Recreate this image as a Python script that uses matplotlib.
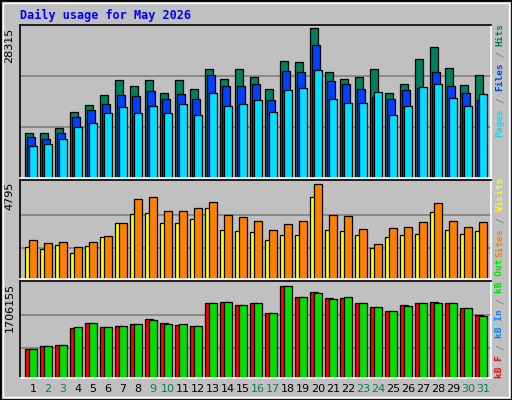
import matplotlib
matplotlib.use("Agg")
import matplotlib.pyplot as plt
from matplotlib.patches import Rectangle

days = list(range(1, 32))
hits = [8520,8520,9481,12556,13709,15631,18513,17360,18513,16015,18513,16784,20627,18706,20627,19090,16784,22165,21973,28315,20051,18706,19090,20627,16015,17745,22549,24663,20820,17552,19474]
files = [7751,7367,8520,11595,12748,13901,15631,15438,16399,14862,15823,14862,19474,17360,17360,17745,14670,20243,20051,25048,18321,17745,16784,15246,14862,16592,16976,20051,17360,16015,14670]
pages = [6022,6406,7367,9673,10442,12364,13325,12364,13517,12364,13901,11980,16015,13517,13901,14670,12556,16592,16976,20435,14862,14093,14093,16207,11980,13517,17168,17745,15054,13517,15823]
visits = [1604,1500,1709,1291,1657,2128,2808,3279,3331,2808,2808,3017,3593,2494,2442,2389,1971,2232,2232,4168,2494,2442,2232,1552,2128,2232,2285,3383,2494,2285,2442]
sites = [1971,1814,1866,1604,1866,2180,2808,4063,4168,3436,3436,3593,3907,3226,3122,2912,2494,2755,2912,4795,3226,3174,2546,1761,2598,2651,2860,3854,2912,2651,2860]
kb_f = [529,585,604,922,1015,940,959,996,1090,1015,978,959,1389,1407,1351,1389,1202,1706,1501,1594,1482,1482,1389,1314,1239,1351,1389,1407,1389,1295,1164]
kb_in = [529,585,604,940,1015,940,959,996,1071,996,996,959,1389,1407,1351,1389,1202,1706,1501,1575,1463,1501,1389,1314,1239,1332,1389,1389,1389,1295,1146]
kb_f = [v * 1000 for v in kb_f]
kb_in = [v * 1000 for v in kb_in]
weekend = [2, 3, 9, 10, 16, 17, 23, 24, 30, 31]

W, H = 512, 400
fig = plt.figure(figsize=(W/100, H/100), dpi=100)
fig.patch.set_facecolor("#C0C0C0")
mono = "DejaVu Sans Mono"

fig.add_artist(Rectangle((0, 0), 1, 1, transform=fig.transFigure, fill=False, ec="black", lw=2))
fig.add_artist(Rectangle((3/W, 3/H), 1-6/W, 1-6/H, transform=fig.transFigure, fill=False, ec="white", lw=1))

def ax_px(x0, y0, x1, y1):
    return fig.add_axes([x0/W, 1-y1/H, (x1-x0)/W, (y1-y0)/H])

def style(ax, ymax, grid_fracs, label):
    ax.set_facecolor("#C0C0C0")
    ax.set_xlim(0.5, 31.9)
    ax.set_ylim(0, ymax)
    for g in grid_fracs:
        ax.axhline(g*ymax, color="#808080", lw=1.2, zorder=0)
    ax.set_xticks([]); ax.set_yticks([])
    for s in ["top", "left"]:
        ax.spines[s].set_color("black")
    for s in ["bottom", "right"]:
        ax.spines[s].set_color("white")
    for s in ax.spines.values():
        s.set_linewidth(1.2)
    ax.text(-0.012, 1 - 0.02, label, transform=ax.transAxes, rotation=90,
            ha="right", va="top", fontsize=8, family="DejaVu Sans")

CH = 5.7
def right_label(parts, y_bottom_px):
    # parts from bottom to top; texts read bottom-to-top
    y = y_bottom_px
    for txt, col in parts:
        fig.text(500/W, 1 - y/H, txt, rotation=90, ha="center", va="bottom",
                 color=col, fontsize=6.8, family=mono, fontweight="bold")
        y -= len(txt) * CH + CH

ec = dict(edgecolor="black", linewidth=0.9)
x = [d - 0.5 for d in days]

ax1 = ax_px(20, 25, 491, 178)
ymax1 = 28315 * 151 / 148
style(ax1, ymax1, [1/3, 2/3], "28315")
ax1.bar([v + 0.35 for v in x], hits, width=0.5, align="edge", color="#00805C", **ec)
ax1.bar([v + 0.49 for v in x], files, width=0.5, align="edge", color="#0040FF", **ec)
ax1.bar([v + 0.62 for v in x], pages, width=0.5, align="edge", color="#00E0FF", **ec)
right_label([("Pages", "#00E0FF"), ("/", "#808080"), ("Files", "#0040FF"), ("/", "#808080"), ("Hits", "#00805C")], 137)

ax2 = ax_px(20, 180, 491, 279)
ymax2 = 4795 * 96 / 92
style(ax2, ymax2, [0.31, 0.65], "4795")
ax2.bar([v + 0.35 for v in x], visits, width=0.29, align="edge", color="#FFFF00", **ec)
ax2.bar([v + 0.62 for v in x], sites, width=0.5, align="edge", color="#FF8000", **ec)
right_label([("Sites", "#FF8000"), ("/", "#808080"), ("Visits", "#FFFF00")], 257)

ax3 = ax_px(20, 281, 491, 378)
ymax3 = 1706155 * 96 / 91.5
style(ax3, ymax3, [0.31, 0.65], "1706155")
ax3.bar([v + 0.35 for v in x], kb_f, width=0.5, align="edge", color="#FF0000", **ec)
ax3.bar([v + 0.62 for v in x], kb_in, width=0.5, align="edge", color="#00E000", **ec)
right_label([("kB F", "#FF0000"), ("/", "#808080"), ("kB In", "#0080FF"), ("/", "#808080"), ("kB Out", "#00E000")], 378)

for d in days:
    col = "#008060" if d in weekend else "black"
    fig.text((20 + (d - 1) * 15 + 13) / W, 1 - 389/H, str(d), ha="center", va="center",
             color=col, fontsize=8, family="DejaVu Sans")

fig.text(20/W, 1 - 15/H, "Daily usage for May 2026", color="#0000FF", fontsize=8.5,
         family=mono, fontweight="bold", ha="left", va="center")

fig.savefig("out.png", dpi=100, facecolor=fig.get_facecolor())
